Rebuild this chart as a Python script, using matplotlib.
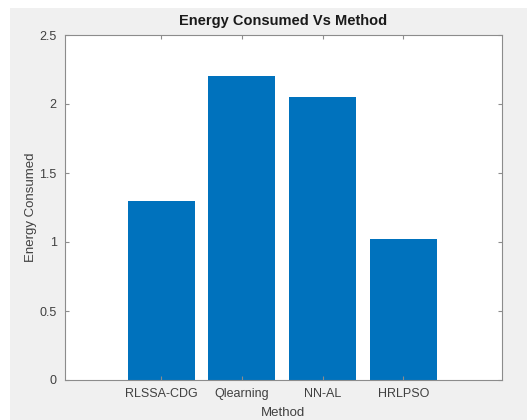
import matplotlib.pyplot as plt
import matplotlib.patches as mpatches

methods = ['RLSSA-CDG', 'Qlearning', 'NN-AL', 'HRLPSO']
energy = [1.30, 2.20, 2.05, 1.02]
yticks = [0, 0.5, 1, 1.5, 2, 2.5]
ytick_labels = ['0', '0.5', '1', '1.5', '2', '2.5']

plt.rcParams['font.family'] = ['Liberation Sans', 'DejaVu Sans']

fig = plt.figure(figsize=(5.27, 4.2), dpi=100, facecolor='white')
# grey window background, white margin at left and top
fig.patches.append(mpatches.Rectangle((10/527, 0), 1, 1 - 8/420,
                                      transform=fig.transFigure,
                                      facecolor='#f0f0f0', edgecolor='none',
                                      zorder=-10))

ax = fig.add_axes([65/527, 40/420, 437/527, 345/420])
ax.set_facecolor('white')

pos = list(range(1, len(methods) + 1))
ax.bar(pos, energy, width=0.83, color='#0072BD')

ax.set_xlim(-0.19, 5.22)
ax.set_ylim(0, 2.5)
ax.set_xticks(pos)
ax.set_xticklabels(methods)
ax.set_yticks(yticks)
ax.set_yticklabels(ytick_labels)

for s in ax.spines.values():
    s.set_color('#8c8c8c')
    s.set_linewidth(0.8)
ax.tick_params(direction='in', length=3, colors='#8c8c8c', labelcolor='#404040',
               labelsize=9, top=True, right=True, pad=6)

ax.set_xlabel('Method', fontsize=9.5, color='#404040', labelpad=5)
ax.set_ylabel('Energy Consumed', fontsize=9.5, color='#404040', labelpad=2)
ax.set_title('Energy Consumed Vs Method', fontsize=10.5, fontweight='bold',
             color='#1a1a1a', pad=7)

fig.savefig('out.png', dpi=100, facecolor=fig.get_facecolor())
